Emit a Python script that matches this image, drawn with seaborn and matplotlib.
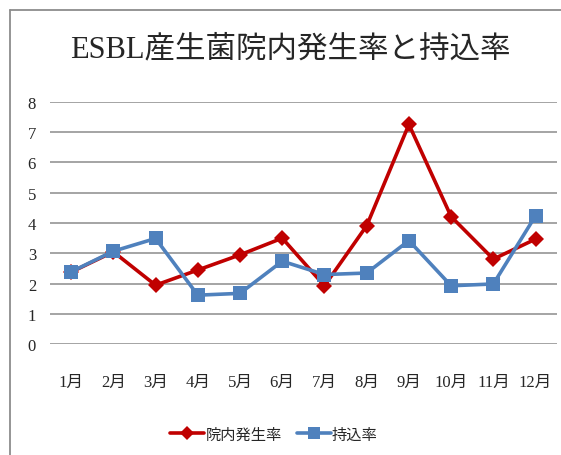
import matplotlib
matplotlib.use("Agg")
import matplotlib.pyplot as plt
import seaborn as sns
import pandas as pd
from matplotlib.lines import Line2D

months = ["1月", "2月", "3月", "4月", "5月", "6月", "7月", "8月", "9月", "10月", "11月", "12月"]
innai = [2.38, 3.05, 1.95, 2.45, 2.95, 3.5, 1.93, 3.91, 7.25, 4.21, 2.81, 3.47]
mochikomi = [2.39, 3.07, 3.49, 1.62, 1.68, 2.74, 2.3, 2.35, 3.42, 1.93, 1.99, 4.24]
series_names = ["院内発生率", "持込率"]
yticks = [0, 1, 2, 3, 4, 5, 6, 7, 8]

sns.set_theme(style="white")
serif = ["Liberation Serif", "Noto Sans CJK JP"]
sans = ["Noto Sans CJK JP", "DejaVu Sans"]
plt.rcParams["font.family"] = serif

fig = plt.figure(figsize=(5.61, 4.56), dpi=100)
W, H = 561, 456
ax = fig.add_axes([50 / W, 1 - 345.3 / H, (556.7 - 50) / W, (345.3 - 102.7) / H])

df = pd.DataFrame({
    "month": months * 2,
    "x": list(range(len(months))) * 2,
    "value": innai + mochikomi,
    "series": [series_names[0]] * len(months) + [series_names[1]] * len(months),
})
colors = {series_names[0]: "#C00000", series_names[1]: "#4F81BD"}

d1 = df[df.series == series_names[0]]
d2 = df[df.series == series_names[1]]
sns.lineplot(data=d1, x="x", y="value", ax=ax, color=colors[series_names[0]],
             linewidth=2.6, marker="D", markersize=8, markeredgewidth=0, zorder=3)
sns.lineplot(data=d2, x="x", y="value", ax=ax, color=colors[series_names[1]],
             linewidth=2.6, marker="s", markersize=10, markeredgewidth=0, zorder=4)

ax.set_xlim(-0.5, len(months) - 0.5)
ax.set_ylim(0, 8)
ax.set_yticks(yticks)
ax.set_yticklabels([str(v) for v in yticks], fontsize=12)
ax.set_xticks(range(len(months)))
ax.set_xticklabels(months, fontsize=12)
ax.tick_params(axis="x", pad=21, length=0)
ax.tick_params(axis="y", pad=10, length=0)
ax.grid(axis="y", color="#8C8C8C", linewidth=1.1)
ax.set_axisbelow(True)
for s in ax.spines.values():
    s.set_visible(False)
ax.set_xlabel("")
ax.set_ylabel("")

fig.text(290 / W, 1 - 50 / H, "ESBL産生菌院内発生率と持込率", ha="center", va="center",
         fontsize=22, family=serif)

handles = [
    Line2D([], [], color=colors[series_names[0]], linewidth=2.6, marker="D", markersize=7, markeredgewidth=0),
    Line2D([], [], color=colors[series_names[1]], linewidth=2.6, marker="s", markersize=8, markeredgewidth=0),
]
fig.legend(handles, series_names, loc="center", bbox_to_anchor=(274 / W, 1 - 435 / H),
           ncol=2, frameon=False, prop={"family": sans, "size": 11},
           handlelength=2.2, handletextpad=0.1, columnspacing=1.0)

# outer chart border
fig.add_artist(Line2D([10 / W, 10 / W], [0, 1 - 11 / H], color="#8C8C8C", linewidth=1.3,
                      transform=fig.transFigure))
fig.add_artist(Line2D([10 / W, 1], [1 - 11 / H, 1 - 11 / H], color="#8C8C8C", linewidth=1.3,
                      transform=fig.transFigure))

fig.savefig("out.png", dpi=100)
